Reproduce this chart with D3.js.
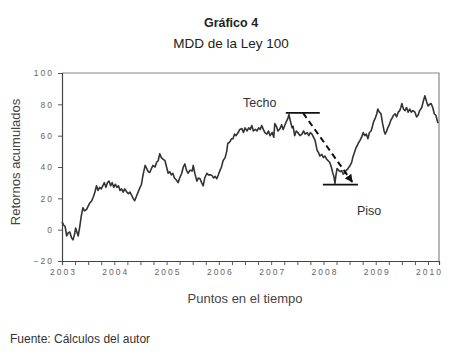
<!DOCTYPE html>
<html>
<head>
<meta charset="utf-8">
<script src="https://cdn.jsdelivr.net/npm/d3@7"></script>
<style>
  body { margin: 0; background: #fff; }
  svg { font-family: "Liberation Sans", Arial, sans-serif; }
  .tick text { font-size: 8.5px; fill: #666; letter-spacing: 2px; }
</style>
</head>
<body>
<svg id="chart" width="453" height="356"></svg>
<script>
// time in decimal years
const tiempo = [
  2003.00, 2003.03, 2003.06, 2003.09, 2003.12, 2003.15, 2003.18, 2003.21, 2003.24, 2003.26,
  2003.28, 2003.31, 2003.34, 2003.37, 2003.40, 2003.43, 2003.47, 2003.50, 2003.53, 2003.57,
  2003.60, 2003.63, 2003.66, 2003.69, 2003.72, 2003.75, 2003.78, 2003.81, 2003.84, 2003.87,
  2003.90, 2003.93, 2003.96, 2003.99, 2004.02, 2004.05, 2004.08, 2004.11, 2004.14, 2004.17,
  2004.20, 2004.24, 2004.27, 2004.30, 2004.33, 2004.36, 2004.39, 2004.42, 2004.45, 2004.48,
  2004.52, 2004.55, 2004.59, 2004.62, 2004.65, 2004.68, 2004.71, 2004.74, 2004.78, 2004.81,
  2004.84, 2004.87, 2004.90, 2004.93, 2004.97, 2005.00, 2005.03, 2005.06, 2005.09, 2005.12,
  2005.15, 2005.18, 2005.22, 2005.25, 2005.29, 2005.32, 2005.35, 2005.38, 2005.41, 2005.45,
  2005.49, 2005.51, 2005.54, 2005.58, 2005.61, 2005.64, 2005.67, 2005.70, 2005.73, 2005.77,
  2005.80, 2005.84, 2005.87, 2005.90, 2005.93, 2005.96, 2005.99, 2006.02, 2006.05, 2006.08,
  2006.12, 2006.15, 2006.17, 2006.21, 2006.24, 2006.27, 2006.30, 2006.33, 2006.37, 2006.40,
  2006.44, 2006.47, 2006.50, 2006.54, 2006.57, 2006.60, 2006.63, 2006.66, 2006.70, 2006.73,
  2006.76, 2006.79, 2006.82, 2006.85, 2006.88, 2006.92, 2006.95, 2006.98, 2007.02, 2007.05,
  2007.07, 2007.10, 2007.13, 2007.17, 2007.20, 2007.23, 2007.26, 2007.29, 2007.32, 2007.34,
  2007.37, 2007.40, 2007.42, 2007.45, 2007.48, 2007.51, 2007.55, 2007.59, 2007.62, 2007.65,
  2007.69, 2007.72, 2007.75, 2007.78, 2007.81, 2007.84, 2007.88, 2007.91, 2007.93, 2007.97,
  2008.00, 2008.03, 2008.06, 2008.09, 2008.12, 2008.15, 2008.18, 2008.20, 2008.22, 2008.24,
  2008.26, 2008.29, 2008.32, 2008.35, 2008.38, 2008.41, 2008.44, 2008.47, 2008.51, 2008.54,
  2008.56, 2008.59, 2008.62, 2008.65, 2008.68, 2008.70, 2008.73, 2008.76, 2008.79, 2008.82,
  2008.85, 2008.88, 2008.91, 2008.93, 2008.96, 2008.99, 2009.02, 2009.04, 2009.07, 2009.10,
  2009.13, 2009.16, 2009.18, 2009.21, 2009.23, 2009.26, 2009.29, 2009.31, 2009.34, 2009.37,
  2009.40, 2009.43, 2009.46, 2009.48, 2009.50, 2009.53, 2009.56, 2009.59, 2009.62, 2009.65,
  2009.68, 2009.71, 2009.75, 2009.78, 2009.81, 2009.84, 2009.88, 2009.91, 2009.94, 2009.97,
  2010.00, 2010.03, 2010.06, 2010.09, 2010.12, 2010.15, 2010.19
];
const retornos = [
  5, 3, 2, -4, -2, -1.5, -5, -6.5, -3, 1,
  -1, -4, 2, 9, 14, 12, 13, 15, 17, 18.5,
  21, 24, 28, 25, 27, 26, 28, 30, 27, 30,
  31, 28, 30, 27, 29, 27, 28, 25, 26, 24,
  26, 24, 23, 24, 22, 20, 18.5, 21, 23.5, 26,
  29, 35, 41, 39, 37, 36.5, 39, 41, 40, 43,
  44, 48.5, 46, 45, 44, 40, 36, 37, 35, 36,
  33, 32, 30, 33, 36, 40, 42, 38, 36, 38,
  37.5, 41, 36, 31, 33, 32.5, 30, 28, 33, 36,
  35, 35, 34.5, 33, 34, 32.5, 35, 37.7, 40, 44,
  46, 50, 55, 56, 58, 58, 61, 60, 62, 64,
  64.5, 62, 65, 63, 65, 64, 66.5, 63, 64, 63,
  65, 64, 66.5, 64, 62, 61, 63, 60, 62, 59,
  67.7, 66, 63, 64.5, 67, 64, 66.5, 69, 71, 73.5,
  69, 65, 66, 60, 63, 62, 60, 61, 63, 61,
  62, 60, 62, 61, 59, 57, 50.5, 49, 47, 48,
  46, 47, 45, 44, 43, 40, 36, 34, 29.5, 35,
  39, 38, 37, 37.7, 35.5, 36.4, 38, 39, 41, 43,
  46, 49, 52, 54, 56, 57, 59, 62, 60, 61,
  58, 62, 63, 65, 69, 71, 74, 77, 75, 74,
  68, 63, 61, 63, 65, 67, 70, 71, 73, 74,
  72, 75, 76, 78, 80.5, 77, 76, 78, 75, 77,
  75, 76, 75, 72, 73, 76, 78, 82, 85.5, 82,
  79, 80, 80.5, 78, 74, 73, 68
];

const yTicks = [-20, 0, 20, 40, 60, 80, 100];
const xYears = [2003, 2004, 2005, 2006, 2007, 2008, 2009, 2010];

// annotations: [start year, end year, value]
const techo = [2007.28, 2007.93, 74.5];
const piso = [2007.99, 2008.66, 28.8];
const flecha = [[2007.61, 74.5], [2008.55, 30.5]];

const svg = d3.select("#chart");
const mLeft = 62, mRight = 439, mTop = 73, mBottom = 261;

const x = d3.scaleLinear().domain([2003, 2010.21]).range([mLeft, mRight]);
const y = d3.scaleLinear().domain([-20, 100]).range([mBottom, mTop]);

// frame (top and right)
svg.append("path")
  .attr("d", `M${mLeft},${mTop}H${mRight}V${mBottom}`)
  .attr("fill", "none").attr("stroke", "#888").attr("stroke-width", 1.2);

const quarters = d3.range(2003, 2010.21, 0.25);

const xAxis = svg.append("g")
  .attr("transform", `translate(0,${mBottom})`)
  .call(d3.axisBottom(x).tickValues(quarters).tickSize(4).tickPadding(4)
    .tickFormat(d => xYears.includes(d) ? d : ""));
xAxis.select(".domain").attr("stroke", "#444").attr("stroke-width", 1.2);
xAxis.selectAll(".tick line").attr("stroke", "#555");
xAxis.selectAll(".tick text").attr("dx", "1px");

const yAxis = svg.append("g")
  .attr("transform", `translate(${mLeft},0)`)
  .call(d3.axisLeft(y).tickValues(yTicks).tickSize(4).tickPadding(4));
yAxis.select(".domain").attr("stroke", "#444").attr("stroke-width", 1.2);
yAxis.selectAll(".tick line").attr("stroke", "#555");

const line = d3.line()
  .x((d, i) => x(tiempo[i]))
  .y(d => y(d));

svg.append("path")
  .datum(retornos)
  .attr("d", line)
  .attr("fill", "none")
  .attr("stroke", "#333")
  .attr("stroke-width", 1.6)
  .attr("stroke-linejoin", "round");

// Techo / Piso lines
[techo, piso].forEach(s => {
  svg.append("line")
    .attr("x1", x(s[0])).attr("x2", x(s[1]))
    .attr("y1", y(s[2])).attr("y2", y(s[2]))
    .attr("stroke", "#111").attr("stroke-width", 1.8);
});

svg.append("defs").append("marker")
  .attr("id", "head")
  .attr("viewBox", "0 0 10 10")
  .attr("refX", 9).attr("refY", 5)
  .attr("markerWidth", 8).attr("markerHeight", 8)
  .attr("markerUnits", "userSpaceOnUse")
  .attr("orient", "auto")
  .append("path").attr("d", "M0,0L10,5L0,10Z").attr("fill", "#111");

svg.append("line")
  .attr("x1", x(flecha[0][0])).attr("y1", y(flecha[0][1]))
  .attr("x2", x(flecha[1][0])).attr("y2", y(flecha[1][1]))
  .attr("stroke", "#111").attr("stroke-width", 2)
  .attr("stroke-dasharray", "6,4")
  .attr("marker-end", "url(#head)");

svg.append("text").attr("x", 243).attr("y", 107)
  .attr("font-size", 12.5).attr("fill", "#333").text("Techo");
svg.append("text").attr("x", 357).attr("y", 215)
  .attr("font-size", 12.5).attr("fill", "#333").text("Piso");

// titles
svg.append("text").attr("x", 231).attr("y", 27).attr("text-anchor", "middle")
  .attr("font-size", 12.5).attr("font-weight", "bold").attr("fill", "#222").text("Gráfico 4");
svg.append("text").attr("x", 231).attr("y", 48).attr("text-anchor", "middle")
  .attr("font-size", 13.5).attr("fill", "#222").text("MDD de la Ley 100");

svg.append("text")
  .attr("transform", `translate(20,162) rotate(-90)`)
  .attr("text-anchor", "middle").attr("font-size", 13).attr("fill", "#444")
  .text("Retornos acumulados");

svg.append("text").attr("x", 245).attr("y", 303).attr("text-anchor", "middle")
  .attr("font-size", 13).attr("fill", "#444").text("Puntos en el tiempo");

svg.append("text").attr("x", 10).attr("y", 343)
  .attr("font-size", 12).attr("fill", "#333").text("Fuente: Cálculos del autor");
</script>
</body>
</html>
